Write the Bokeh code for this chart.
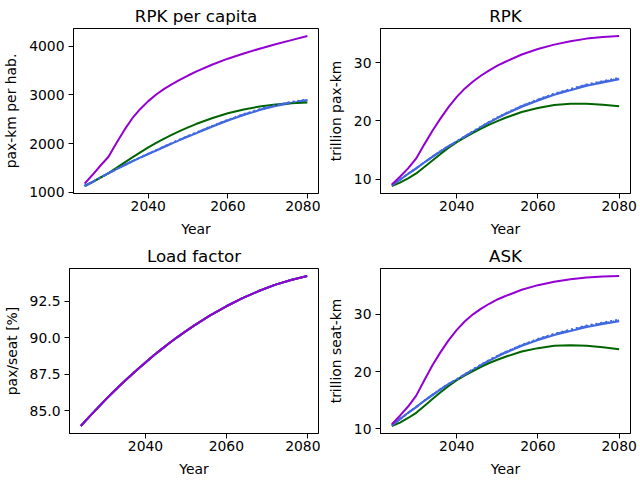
from bokeh.plotting import figure
from bokeh.layouts import column, row
from bokeh.models import Range1d, FixedTicker, PrintfTickFormatter
from bokeh.embed import file_html
from bokeh.resources import INLINE

# Projection years
years = [2024, 2026, 2028, 2030, 2032, 2034, 2036, 2038, 2040, 2042, 2044,
         2046, 2048, 2050, 2052, 2056, 2060, 2064, 2068, 2072, 2076, 2080]

# RPK per capita (pax-km per inhabitant)
pc_purple = [1180, 1360, 1550, 1730, 2010, 2280, 2520, 2710, 2870, 3005, 3120,
             3220, 3310, 3395, 3475, 3615, 3740, 3845, 3945, 4035, 4120, 4205]
pc_green = [1130, 1210, 1300, 1395, 1500, 1610, 1715, 1820, 1920, 2012, 2100,
            2182, 2260, 2332, 2400, 2520, 2620, 2700, 2760, 2800, 2825, 2840]
pc_blue = [1130, 1215, 1305, 1390, 1475, 1555, 1635, 1710, 1785, 1858, 1930,
           2003, 2075, 2143, 2210, 2345, 2470, 2585, 2685, 2770, 2830, 2880]
pc_blue_dot = [1130, 1216, 1307, 1393, 1479, 1560, 1641, 1717, 1793, 1867, 1940,
               2014, 2087, 2156, 2224, 2360, 2487, 2603, 2705, 2792, 2853, 2905]
pc_blue_dashdot = [1130, 1215, 1306, 1392, 1477, 1558, 1638, 1714, 1790, 1863, 1936,
                   2009, 2082, 2150, 2218, 2353, 2479, 2595, 2696, 2782, 2843, 2895]

# RPK (trillion pax-km)
rpk_purple = [9.07, 10.40, 11.83, 13.54, 15.96, 18.31, 20.43, 22.39, 24.11, 25.57, 26.76,
              27.79, 28.68, 29.48, 30.15, 31.39, 32.34, 33.09, 33.68, 34.12, 34.38, 34.57]
rpk_green = [8.81, 9.39, 10.13, 10.97, 12.08, 13.19, 14.32, 15.37, 16.34, 17.16, 17.93,
             18.66, 19.36, 19.96, 20.53, 21.51, 22.21, 22.71, 22.92, 22.93, 22.78, 22.52]
rpk_blue = [8.90, 9.89, 10.90, 11.83, 12.85, 13.80, 14.76, 15.63, 16.42, 17.27, 18.11,
            18.92, 19.72, 20.46, 21.16, 22.42, 23.50, 24.47, 25.25, 26.02, 26.59, 27.13]
rpk_blue_dot = [8.90, 9.90, 10.92, 11.86, 12.89, 13.85, 14.82, 15.70, 16.50, 17.36, 18.21,
                19.03, 19.84, 20.58, 21.30, 22.58, 23.68, 24.67, 25.47, 26.25, 26.83, 27.38]
rpk_blue_dashdot = [8.90, 9.89, 10.91, 11.85, 12.87, 13.83, 14.79, 15.67, 16.46, 17.32, 18.16,
                    18.98, 19.78, 20.52, 21.23, 22.50, 23.59, 24.57, 25.36, 26.14, 26.71, 27.25]

# Load factor (pax/seat, %), identical across scenarios
lf_all = [83.95, 84.56, 85.14, 85.72, 86.27, 86.80, 87.32, 87.82, 88.30, 88.77, 89.21,
          89.64, 90.05, 90.44, 90.82, 91.52, 92.14, 92.70, 93.18, 93.60, 93.94, 94.21]

# ASK (trillion seat-km)
ask_purple = [10.8, 12.3, 13.9, 15.8, 18.5, 21.1, 23.4, 25.5, 27.3, 28.8, 30.0,
              31.0, 31.85, 32.6, 33.2, 34.3, 35.1, 35.7, 36.15, 36.45, 36.6, 36.7]
ask_green = [10.5, 11.1, 11.9, 12.8, 14.0, 15.2, 16.4, 17.5, 18.5, 19.33, 20.1,
             20.82, 21.5, 22.07, 22.6, 23.5, 24.1, 24.5, 24.6, 24.5, 24.25, 23.9]
ask_blue = [10.6, 11.7, 12.8, 13.8, 14.9, 15.9, 16.9, 17.8, 18.6, 19.46, 20.3,
            21.11, 21.9, 22.62, 23.3, 24.5, 25.5, 26.4, 27.1, 27.8, 28.3, 28.8]
ask_blue_dot = [10.6, 11.71, 12.82, 13.84, 14.95, 15.96, 16.97, 17.88, 18.69, 19.56, 20.41,
                21.23, 22.03, 22.76, 23.45, 24.67, 25.70, 26.61, 27.33, 28.04, 28.56, 29.07]
ask_blue_dashdot = [10.6, 11.7, 12.81, 13.82, 14.92, 15.93, 16.93, 17.84, 18.65, 19.51, 20.36,
                    21.17, 21.97, 22.69, 23.38, 24.59, 25.60, 26.51, 27.22, 27.92, 28.43, 28.94]

x_ticks = [2040, 2060, 2080]

PURPLE = "#9400D3"
GREEN = "#006400"
BLUE = "#4169E1"
FONT = "DejaVu Sans"


def padded(series_list, frac=0.05):
    lo = min(min(s) for s in series_list)
    hi = max(max(s) for s in series_list)
    span = hi - lo
    return Range1d(lo - frac * span, hi + frac * span)


def panel(title, ylabel, series, yticks, left, right, fmt=None):
    purple, green, blue, blue_dot, blue_dd = series
    x0, x1 = min(years), max(years)
    xs = x1 - x0
    p = figure(width=320, height=240, output_backend="svg", toolbar_location=None,
               x_range=Range1d(x0 - 0.05 * xs, x1 + 0.05 * xs),
               y_range=padded(series),
               min_border_left=left, min_border_right=right,
               min_border_top=27, min_border_bottom=47)
    p.title.text = title
    p.title.align = "center"
    p.title.text_font = FONT
    p.title.text_font_size = "16.7px"
    p.title.text_font_style = "normal"
    p.title.text_color = "black"
    p.title.standoff = 6

    p.grid.visible = False
    p.outline_line_color = "black"
    p.outline_line_alpha = 1
    p.outline_line_width = 1
    p.background_fill_color = "white"
    p.border_fill_color = "white"

    for ax in (p.xaxis[0], p.yaxis[0]):
        ax.axis_line_color = "black"
        ax.major_tick_line_color = "black"
        ax.major_tick_out = 5
        ax.major_tick_in = 0
        ax.minor_tick_line_color = None
        ax.major_label_text_font = FONT
        ax.major_label_text_font_size = "13.9px"
        ax.major_label_text_color = "black"
        ax.axis_label_text_font = FONT
        ax.axis_label_text_font_size = "13.9px"
        ax.axis_label_text_font_style = "normal"
        ax.axis_label_text_color = "black"
        ax.axis_label_standoff = 7
    p.xaxis.major_label_standoff = 2
    p.yaxis.major_label_standoff = 4

    p.xaxis.ticker = FixedTicker(ticks=x_ticks)
    p.yaxis.ticker = FixedTicker(ticks=yticks)
    if fmt:
        p.yaxis.formatter = PrintfTickFormatter(format=fmt)
    p.xaxis.axis_label = "Year"
    p.yaxis.axis_label = ylabel

    p.line(years, blue, line_color=BLUE, line_width=2)
    p.line(years, green, line_color=GREEN, line_width=2)
    p.line(years, blue_dot, line_color=BLUE, line_width=2, line_dash="2 3")
    p.line(years, blue_dd, line_color=BLUE, line_width=2, line_dash="13 3 2 3")
    p.line(years, purple, line_color=PURPLE, line_width=2)
    return p


p1 = panel("RPK per capita", "pax-km per hab.",
           [pc_purple, pc_green, pc_blue, pc_blue_dot, pc_blue_dashdot],
           [1000, 2000, 3000, 4000], 69, 2)
p2 = panel("RPK", "trillion pax-km",
           [rpk_purple, rpk_green, rpk_blue, rpk_blue_dot, rpk_blue_dashdot],
           [10, 20, 30], 60, 10)
p3 = panel("Load factor", "pax/seat [%]",
           [lf_all, lf_all, lf_all, lf_all, lf_all],
           [85.0, 87.5, 90.0, 92.5], 69, 2, fmt="%.1f")
p4 = panel("ASK", "trillion seat-km",
           [ask_purple, ask_green, ask_blue, ask_blue_dot, ask_blue_dashdot],
           [10, 20, 30], 60, 10)

layout = column(row(p1, p2), row(p3, p4))

with open("out.html", "w") as f:
    f.write(file_html(layout, INLINE))
